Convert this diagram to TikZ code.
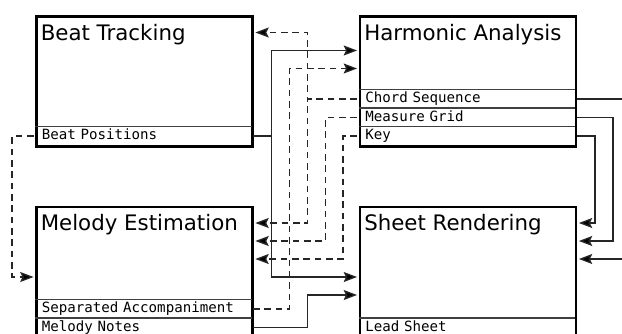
\documentclass[tikz,border=0pt]{standalone}
\usepackage{fontspec}
\setmainfont{DejaVu Sans}
\setmonofont{DejaVu Sans Mono}
\usetikzlibrary{calc,arrows.meta}

\tikzset{
  block/.style={draw, line width=2.2pt, minimum width=162pt, minimum height=97.5pt, anchor=north west, inner sep=0pt},
  title/.style={anchor=base west, inner sep=0pt, font=\fontsize{16}{18}\selectfont},
  port/.style={anchor=north west, inner ysep=0pt, inner xsep=5pt, text width=152pt, minimum height=13.9pt, text height=7.5pt, text depth=2.2pt, font=\ttfamily\fontsize{10.6}{12}\selectfont},
  sep/.style={draw=black!75, line width=0.8pt},
  flow/.style={draw=black!85, line width=1pt, shorten <=1.1pt, shorten >=1.1pt, -{Stealth[length=10pt,width=7.5pt,inset=1.8pt,fill=black]}},
  feed/.style={flow, dash pattern=on 5pt off 3.5pt},
}

\begin{document}
\begin{tikzpicture}[x=0.75pt,y=-0.75pt]
  \useasboundingbox (0,0) rectangle (622,333);
  \clip (0,0) rectangle (622,333);

  % the four stages
  \node[block] (beat) at (35,15) {};
  \node[block] (harm) at (358.5,15) {};
  \node[block] (mel) at (35,205.5) {};
  \node[block] (sheet) at (358.5,205.5) {};

  \node[title] (beat-t) at ($(beat.north west)+(5.5,25)$) {Beat Tracking};
  \node[title] (harm-t) at ($(harm.north west)+(5.5,25)$) {Harmonic Analysis};
  \node[title] (mel-t) at ($(mel.north west)+(5.5,25)$) {Melody Estimation};
  \node[title] (sheet-t) at ($(sheet.north west)+(5.5,25)$) {Sheet Rendering};

  % output rows
  \node[port] (bpos) at (35,126.5) {Beat Positions};
  \node[port] (chord) at (358.5,89.5) {Chord Sequence};
  \node[port] (grid) at (358.5,108) {Measure Grid};
  \node[port] (key) at (358.5,126.5) {Key};
  \node[port] (sepacc) at (35,299.5) {Separated Accompaniment};
  \node[port] (notes) at (35,318) {Melody Notes};
  \node[port] (lead) at (358.5,318) {Lead Sheet};
  \foreach \p in {bpos,chord,grid,key,sepacc,notes,lead}
    \draw[sep] (\p.north west) -- (\p.north east);

  % input slots on both sides
  \foreach \b in {beat,harm,mel,sheet}{
    \foreach \k in {1,...,5}{
      \coordinate (\b-w\k) at ($(\b.north west)+(0,{17.5+18*(\k-1)})$);
      \coordinate (\b-e\k) at ($(\b.north east)+(0,{17.5+18*(\k-1)})$);
    }
  }

  % connectors
  \draw[flow] (bpos.east) -- ++(20,0) |- (harm-w2);
  \draw[flow] (bpos.east) -- ++(20,0) |- (sheet-w4);
  \draw[feed] (bpos.west) -- ++(-23,0) |- (mel-w4);
  \draw[feed] (chord.west) -- ++(-51,0) |- (beat-e1);
  \draw[feed] (chord.west) -- ++(-51,0) |- (mel-e1);
  \draw[feed] (grid.west) -- ++(-33,0) |- (mel-e2);
  \draw[feed] (key.west) -- ++(-15.5,0) |- (mel-e3);
  \draw[feed] (sepacc.east) -- ++(38,0) |- (harm-w3);
  \draw[flow] (notes.east) -- ++(56,0) |- (sheet-w5);
  \draw[flow] (key.east) -- ++(20,0) |- (sheet-e1);
  \draw[flow] (grid.east) -- ++(38,0) |- (sheet-e2);
  \draw[flow] (chord.east) -- ++(60,0) |- (sheet-e3);
\end{tikzpicture}
\end{document}
